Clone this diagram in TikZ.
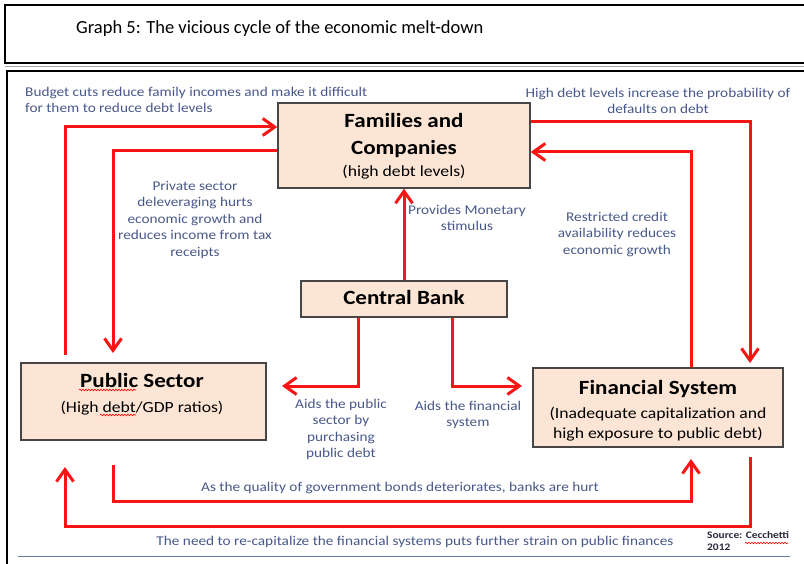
\documentclass[tikz,border=0pt]{standalone}
\usepackage{fontspec}
\setmainfont{Carlito}
\newfontfamily\wideface{Carlito}[FakeStretch=1.14]
\usetikzlibrary{arrows.meta,decorations.pathmorphing}
\definecolor{boxfill}{RGB}{252,229,213}
\definecolor{boxline}{RGB}{70,70,70}
\definecolor{flow}{RGB}{250,20,20}
\definecolor{notecol}{RGB}{72,88,138}
\definecolor{rulecol}{RGB}{100,120,160}
\definecolor{srccol}{RGB}{40,40,60}
\begin{document}
\begin{tikzpicture}[x=1pt,y=-1pt,
  box/.style={draw=boxline,line width=1.4pt,fill=boxfill,inner sep=0pt},
  headtxt/.style={anchor=base,inner sep=0pt,font=\wideface\fontsize{20.2}{24}\selectfont\bfseries},
  subtxt/.style={anchor=base,inner sep=0pt,font=\wideface\fontsize{15.5}{19}\selectfont},
  notetxt/.style={inner sep=0pt,align=center,text=notecol,font=\wideface\fontsize{13.4}{16.5}\selectfont},
  flowarrow/.style={draw=flow,line width=3pt,line join=miter,-{Straight Barb[length=12pt,width=17pt]}},
  squiggle/.style={draw=red,line width=0.6pt,decorate,decoration={snake,amplitude=0.8pt,segment length=3pt}}
]
\useasboundingbox (0,0) rectangle (804,564);

% frames of the caption and of the figure
\draw[line width=2pt] (5,5) rectangle (812,63);
\draw[gray!70,line width=1.2pt] (5,66.5) -- (804,66.5);
\draw[line width=2.6pt] (7,71) rectangle (812,572);
\node[anchor=base west,inner sep=0pt,font=\fontsize{18.5}{22}\selectfont] (title) at (76,34) {Graph 5: The vicious cycle of the economic melt-down};

% the four actors
\node[box,minimum width=252,minimum height=85] (fam) at (404,145.5) {};
\node[box,minimum width=206,minimum height=36] (cb) at (404,299) {};
\node[box,minimum width=245,minimum height=77] (pub) at (143.5,401.5) {};
\node[box,minimum width=250,minimum height=79] (fin) at (658,407.5) {};

\node[headtxt] (famA) at (404,128) {Families and};
\node[headtxt] (famB) at (404,155) {Companies};
\node[subtxt] (famC) at (404,177) {(high debt levels)};
\node[headtxt] (cbA) at (404,305) {Central Bank};
\node[headtxt] (pubA) at (142,388) {Public Sector};
\node[subtxt] (pubB) at (142,412) {(High debt/GDP ratios)};
\node[headtxt] (finA) at (658,395) {Financial System};
\node[subtxt] (finB) at (658,418) {(Inadequate capitalization and};
\node[subtxt] (finC) at (658,438) {high exposure to public debt)};

% spell-check marks
\draw[squiggle] (79,390) -- (136,390);
\draw[squiggle] (100,415) -- (136,415);
\draw[squiggle] (745,543) -- (788,543);

% loose ends and corners of the feedback loops
\coordinate (s1) at (65,355);
\coordinate (e2) at (113,353);
\coordinate (e3) at (750,363);
\coordinate (e6) at (282,386);
\coordinate (e7) at (522,386);
\coordinate (s8) at (113,465);
\coordinate (c8) at (691,501);
\coordinate (e8) at (691,459);
\coordinate (s9) at (750,457);
\coordinate (c9) at (65,526);
\coordinate (e9) at (65,467);

\draw[flowarrow] (s1) |- (fam.west |- 0,127);
\draw[flowarrow] (fam.west |- 0,151) -| (e2);
\draw[flowarrow] (fam.east |- 0,122) -| (e3);
\draw[flowarrow] (fin.north -| 691,0) |- (fam.east |- 0,152);
\draw[flowarrow] (cb.north) -- (fam.south);
\draw[flowarrow] (cb.south -| 358,0) |- (e6);
\draw[flowarrow] (cb.south -| 452,0) |- (e7);
\draw[flowarrow] (s8) |- (c8) -- (e8);
\draw[flowarrow] (s9) |- (c9) -- (e9);

% explanations of the links
\node[notetxt,align=left,anchor=west] (budget) at (25,100) {Budget cuts reduce family incomes and make it difficult\\for them to reduce debt levels};
\node[notetxt] (highdebt) at (658,101) {High debt levels increase the probability of\\defaults on debt};
\node[notetxt] (private) at (195,219.5) {Private sector\\deleveraging hurts\\economic growth and\\reduces income from tax\\receipts};
\node[notetxt] (monetary) at (467,218) {Provides Monetary\\stimulus};
\node[notetxt] (credit) at (617,234.5) {Restricted credit\\availability reduces\\economic growth};
\node[notetxt] (aidpub) at (341,429.5) {Aids the public\\sector by\\purchasing\\public debt};
\node[notetxt] (aidfin) at (468,415) {Aids the financial\\system};
\node[notetxt] (bonds) at (400,488) {As the quality of government bonds deteriorates, banks are hurt};
\node[notetxt] (recap) at (415,542) {The need to re-capitalize the financial systems puts further strain on public finances};
\node[inner sep=0pt,align=left,anchor=north west,text=srccol,font=\wideface\fontsize{10}{12}\selectfont\bfseries] (source) at (707,531) {Source: Cecchetti\\2012};
\draw[rulecol,line width=1pt] (18,556) -- (790,556);
\end{tikzpicture}
\end{document}
